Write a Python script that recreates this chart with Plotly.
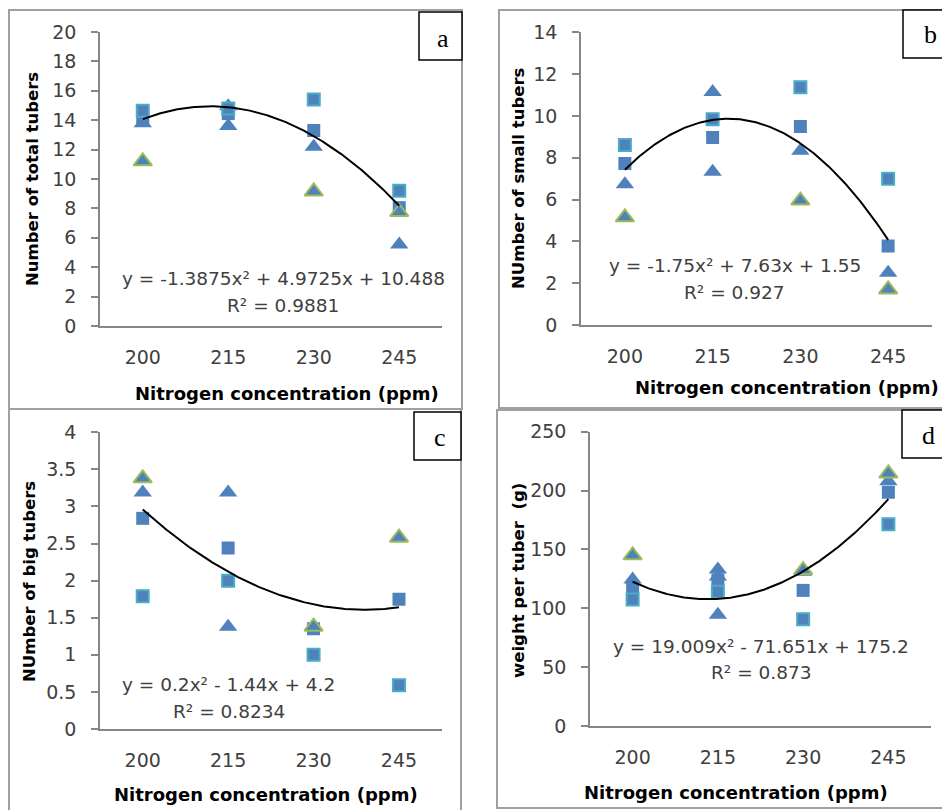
import numpy as np
import plotly.graph_objects as go

W, H = 942, 810

# ---------------- data ----------------
N = [200, 215, 230, 245]
tick_text = ["200", "215", "230", "245"]

# panel a : Number of total tubers
dark_sq_a = [14.1, 14.45, 13.3, 8.05]
light_sq_a = [14.65, 14.8, 15.4, 9.2]
tri_a_x = [200, 215, 215, 230, 245]
tri_a_y = [13.8, 14.95, 13.6, 12.2, 5.55]
gtri_a_x = [200, 230, 245]
gtri_a_y = [11.2, 9.15, 7.75]
coef_a = [-1.3875, 4.9725, 10.488]
eq_a = "y = -1.3875x² + 4.9725x + 10.488"
r2_a = "R² = 0.9881"

# panel b : Number of small tubers
dark_sq_b = [7.73, 8.97, 9.49, 3.78]
light_sq_b = [8.61, 9.84, 11.37, 6.99]
tri_b_x = [200, 215, 215, 230, 245]
tri_b_y = [6.73, 11.15, 7.33, 8.34, 2.5]
gtri_b_x = [200, 230, 245]
gtri_b_y = [5.15, 5.95, 1.7]
coef_b = [-1.75, 7.63, 1.55]
eq_b = "y = -1.75x² + 7.63x + 1.55"
r2_b = "R² = 0.927"

# panel c : Number of big tubers
dark_sq_c = [2.84, 2.44, 1.35, 1.75]
light_sq_c = [1.79, 2.0, 1.0, 0.59]
tri_c_x = [200, 215, 215, 230]
tri_c_y = [3.19, 3.19, 1.38, 1.38]
gtri_c_x = [200, 230, 245]
gtri_c_y = [3.38, 1.38, 2.58]
coef_c = [0.2, -1.44, 4.2]
eq_c = "y = 0.2x² - 1.44x + 4.2"
r2_c = "R² = 0.8234"

# panel d : weight per tuber
dark_sq_d = [118, 124, 115.2, 198.5]
light_sq_d = [107.5, 114, 90.6, 171.3]
tri_d_x = [200, 215, 215, 215, 230, 245]
tri_d_y = [124.5, 133, 127, 94.5, 131, 208]
gtri_d_x = [200, 230, 245]
gtri_d_y = [145, 132.5, 214.5]
coef_d = [19.009, -71.651, 175.2]
eq_d = "y = 19.009x² - 71.651x + 175.2"
r2_d = "R² = 0.873"

y_titles = ["Number of total tubers", "NUmber of small tubers",
            "NUmber of big tubers", "weight per tuber  (g)"]
x_title = "Nitrogen concentration (ppm)"
y_ranges = [(0, 20, 2), (0, 14, 2), (0, 4, 0.5), (0, 250, 50)]
letters = ["a", "b", "c", "d"]

# ---------------- layout helpers ----------------
def px(x):
    return x / W

def py(y):
    return 1 - y / H

# plot areas (left, right, top, bottom) in pixels
areas = [(100, 442, 32, 326), (581, 932, 32.3, 325),
         (100, 441.7, 432.3, 729), (590, 931, 431.7, 726)]

BLUE = "#4F81BD"
CYAN = "#4BACC6"
GREEN = "#9BBB59"
TXT = "#404040"
AXC = "#868686"
FONT = "DejaVu Sans"

fig = go.Figure()

panels = [
    (dark_sq_a, light_sq_a, tri_a_x, tri_a_y, gtri_a_x, gtri_a_y, coef_a),
    (dark_sq_b, light_sq_b, tri_b_x, tri_b_y, gtri_b_x, gtri_b_y, coef_b),
    (dark_sq_c, light_sq_c, tri_c_x, tri_c_y, gtri_c_x, gtri_c_y, coef_c),
    (dark_sq_d, light_sq_d, tri_d_x, tri_d_y, gtri_d_x, gtri_d_y, coef_d),
]

for i, (dsq, lsq, tx, ty, gx, gy, coef) in enumerate(panels):
    k = "" if i == 0 else str(i + 1)
    xa, ya = "x" + k, "y" + k
    # trendline (Excel polynomial of order 2 on series index 1..4)
    nn = np.linspace(N[0], N[-1], 200)
    t = (nn - (N[0] - 15)) / 15.0
    fit = coef[0] * t ** 2 + coef[1] * t + coef[2]
    fig.add_trace(go.Scatter(x=N, y=dsq, mode="markers", xaxis=xa, yaxis=ya,
                             marker=dict(symbol="square", size=13, color=BLUE,
                                         line=dict(width=0))))
    fig.add_trace(go.Scatter(x=tx, y=ty, mode="markers", xaxis=xa, yaxis=ya,
                             marker=dict(symbol="triangle-up", size=16, color=BLUE,
                                         line=dict(width=0))))
    fig.add_trace(go.Scatter(x=N, y=lsq, mode="markers", xaxis=xa, yaxis=ya,
                             marker=dict(symbol="square", size=12, color=BLUE,
                                         line=dict(width=2, color=CYAN))))
    fig.add_trace(go.Scatter(x=gx, y=gy, mode="markers", xaxis=xa, yaxis=ya,
                             marker=dict(symbol="triangle-up", size=16, color=BLUE,
                                         line=dict(width=2, color=GREEN))))
    fig.add_trace(go.Scatter(x=nn, y=fit, mode="lines", xaxis=xa, yaxis=ya,
                             line=dict(color="black", width=2)))

    l, r, tp, bt = areas[i]
    y0, y1, dy = y_ranges[i]
    fig.update_layout(**{
        "xaxis" + k: dict(domain=[px(l), px(r)], range=[192.5, 252.5],
                          tickvals=N, ticktext=tick_text, showgrid=False,
                          zeroline=False, showline=True, linecolor=AXC, linewidth=1.5,
                          ticks="", ticklabelstandoff=13, automargin=False,
                          tickfont=dict(family=FONT, size=19, color=TXT),
                          anchor=ya, fixedrange=True),
        "yaxis" + k: dict(domain=[py(bt), py(tp)], range=[y0, y1], dtick=dy,
                          tick0=0, showgrid=False, zeroline=False, showline=True,
                          linecolor=AXC, linewidth=1.5, ticks="outside", ticklen=7,
                          tickcolor=AXC, tickwidth=1.5, ticklabelstandoff=11,
                          automargin=False,
                          tickfont=dict(family=FONT, size=19, color=TXT),
                          anchor=xa, fixedrange=True),
    })

# ---------------- annotations ----------------
ann = []
xt_pos = [(287, 393), (787, 388), (266, 794), (736, 792)]
yt_pos = [(32, 179), (518, 178), (29, 582), (518, 581)]
eq_pos = [((283, 278), (283, 305)), ((735, 265), (734, 292)),
          ((228, 684), (229, 711)), ((761, 646), (761, 672))]
eqs = [(eq_a, r2_a), (eq_b, r2_b), (eq_c, r2_c), (eq_d, r2_d)]
for i in range(4):
    ann.append(dict(x=px(xt_pos[i][0]), y=py(xt_pos[i][1]), xref="paper", yref="paper",
                    text="<b>" + x_title + "</b>", showarrow=False,
                    font=dict(family=FONT, size=18, color="black"),
                    xanchor="center", yanchor="middle"))
    ann.append(dict(x=px(yt_pos[i][0]), y=py(yt_pos[i][1]), xref="paper", yref="paper",
                    text="<b>" + y_titles[i] + "</b>", showarrow=False, textangle=-90,
                    font=dict(family=FONT, size=16.5, color="black"),
                    xanchor="center", yanchor="middle"))
    for (ex, ey), txt in zip(eq_pos[i], eqs[i]):
        ann.append(dict(x=px(ex), y=py(ey), xref="paper", yref="paper", text=txt,
                        showarrow=False, font=dict(family=FONT, size=18.5, color=TXT),
                        xanchor="center", yanchor="middle"))

letter_pos = [(443, 38), (930, 35), (440, 437), (928, 435)]
for i in range(4):
    lx, ly = letter_pos[i]
    ann.append(dict(x=px(lx), y=py(ly), xref="paper", yref="paper", text=letters[i],
                    showarrow=False,
                    font=dict(family="Liberation Serif", size=26, color="black"),
                    xanchor="center", yanchor="middle"))

# ---------------- frames ----------------
shapes = []
frames = [(9, 462, 10, 409), (499, 946, 10, 408), (9, 461, 409, 815), (497, 946, 410, 808)]
for (x0, x1, y0, y1) in frames:
    shapes.append(dict(type="rect", xref="paper", yref="paper", x0=px(x0), x1=px(x1),
                       y0=py(y1), y1=py(y0), line=dict(color="#A0A0A0", width=2),
                       layer="below"))
boxes = [(419, 462, 12, 60), (903, 946, 10, 58), (414, 461, 412, 460), (902, 946, 410, 458)]
for (x0, x1, y0, y1) in boxes:
    shapes.append(dict(type="rect", xref="paper", yref="paper", x0=px(x0), x1=px(x1),
                       y0=py(y1), y1=py(y0), line=dict(color="black", width=1.5),
                       fillcolor="white", layer="above"))

fig.update_layout(width=W, height=H,
                  margin=dict(l=0, r=0, t=0, b=0, pad=0, autoexpand=False),
                  template="none",
                  paper_bgcolor="white", plot_bgcolor="white", showlegend=False,
                  annotations=ann, shapes=shapes)

fig.write_html("out.html", config={"displayModeBar": False},
               post_script="document.body.style.margin='0';document.body.style.overflow='hidden';")
